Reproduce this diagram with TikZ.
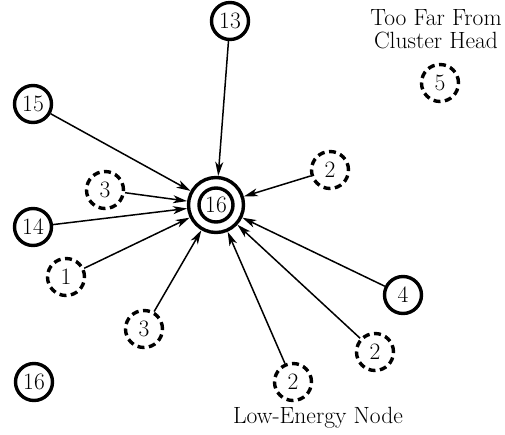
\documentclass[tikz,border=0pt]{standalone}
\usetikzlibrary{arrows.meta}
\begin{document}
\begin{tikzpicture}[x=1pt,y=-1pt,
  every node/.style={font=\fontsize{23.5}{23.5}\selectfont},
  solidnode/.style={circle,draw,line width=3.4pt,minimum size=37pt,inner sep=0pt},
  dashnode/.style={circle,draw,line width=3.4pt,dash pattern=on 7pt off 4.5pt,minimum size=37pt,inner sep=0pt},
  link/.style={line width=1.5pt,-{Stealth[length=14pt,width=8pt,inset=4pt]}},
  lbl/.style={align=center,inner sep=0pt}]
\useasboundingbox (0,0) rectangle (505,434);
% cluster head
\node[circle,draw,line width=3.4pt,minimum size=55pt,inner sep=0pt] (hd) at (216,205) {};
\node[solidnode,minimum size=34pt] (h) at (216,205) {16};
% members
\node[solidnode] (n13) at (230,21) {13};
\node[solidnode] (n15) at (33,104) {15};
\node[dashnode] (n3a) at (105,190) {3};
\node[solidnode] (n14) at (33,227) {14};
\node[dashnode] (n1) at (66,277) {1};
\node[dashnode] (n3b) at (144,329) {3};
\node[dashnode] (n2a) at (330,170) {2};
\node[solidnode] (n4) at (403,295) {4};
\node[dashnode] (n2b) at (375,352) {2};
\node[dashnode] (n2c) at (293,382) {2};
\node[solidnode] (n16) at (34,382) {16};
\node[dashnode] (n5) at (440,83) {5};
% labels
\node[lbl] (far) at (436,29) {Too Far From\\Cluster Head};
\node[lbl] (low) at (318,418) {Low-Energy Node};
% links
\foreach \s in {n13,n15,n3a,n14,n1,n3b,n2a,n4,n2b,n2c}
  \draw[link] (\s) -- (hd);
\end{tikzpicture}
\end{document}
